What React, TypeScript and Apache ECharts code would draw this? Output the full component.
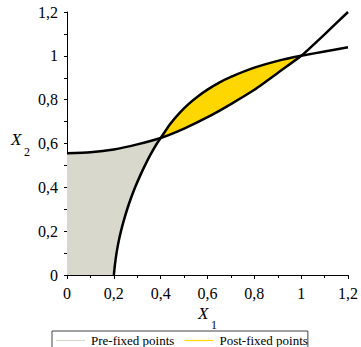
import React, { useEffect, useRef } from "react";
import * as echarts from "echarts";

// Curve through (0, 0.555): flat at first, steepening towards (1.2, 1.2)
const curveAX = [0, 0.1, 0.2, 0.3, 0.4, 0.5, 0.6, 0.7, 0.8, 0.9, 1.0, 1.1, 1.2];
const curveAY = [0.555, 0.56, 0.573, 0.596, 0.625, 0.668, 0.72, 0.78, 0.845, 0.922, 1.0, 1.098, 1.2];

// Curve starting at (0.2, 0): steep at first, flattening towards (1.2, 1.04)
const curveBX = [0.2, 0.205, 0.2115, 0.22, 0.2305, 0.243, 0.257, 0.273, 0.291, 0.311, 0.333, 0.357, 0.384, 0.4,
  0.44, 0.48, 0.52, 0.56, 0.6, 0.65, 0.7, 0.8, 0.9, 1.0, 1.1, 1.2];
const curveBY = [0, 0.05, 0.1, 0.15, 0.2, 0.25, 0.3, 0.35, 0.4, 0.45, 0.5, 0.55, 0.6, 0.625,
  0.688, 0.739, 0.781, 0.816, 0.846, 0.878, 0.904, 0.946, 0.977, 1.0, 1.02, 1.039];

// Where the two curves meet
const crossLowX = 0.4;
const crossHighX = 1.0;

const xTickLabels = ["0", "0,2", "0,4", "0,6", "0,8", "1", "1,2"];
const yTickLabels = ["0", "0,2", "0,4", "0,6", "0,8", "1", "1,2"];

const legendNames = ["Pre-fixed points", "Post-fixed points"];

const GREY = "#d9d8cc";
const YELLOW = "#ffd700";
const SERIF = "Liberation Serif";

const zip = (xs: number[], ys: number[]) => xs.map((x, i) => [x, ys[i]]);

export default function App() {
  const ref = useRef<HTMLDivElement>(null);

  useEffect(() => {
    document.body.style.margin = "0";
    if (!ref.current) return;
    const chart = echarts.init(ref.current, undefined, { renderer: "svg" });

    const a = zip(curveAX, curveAY);
    const b = zip(curveBX, curveBY);

    // Region left of curve B and under curve A
    const prePoly = [
      [0, 0],
      ...b.filter((p) => p[0] <= crossLowX),
      ...a.filter((p) => p[0] <= crossLowX).reverse(),
    ];
    // Region between the two crossings
    const postPoly = [
      ...b.filter((p) => p[0] >= crossLowX && p[0] <= crossHighX),
      ...a.filter((p) => p[0] >= crossLowX && p[0] <= crossHighX).reverse(),
    ];

    const polySeries = (name: string, pts: number[][], color: string) => ({
      type: "custom",
      name,
      silent: true,
      itemStyle: { color },
      data: [[0, 0]],
      renderItem: (_params: any, api: any) => ({
        type: "polygon",
        shape: { points: pts.map((p) => api.coord(p)) },
        style: { fill: color, stroke: "none" },
      }),
    });

    const curveSeries = (pts: number[][]) => ({
      type: "line",
      data: pts,
      showSymbol: false,
      smooth: 0.2,
      silent: true,
      lineStyle: { color: "#000", width: 2.5 },
    });

    const label = (list: string[]) => ({
      margin: 9,
      fontFamily: SERIF,
      fontSize: 16,
      color: "#000",
      formatter: (v: number) => list[Math.round(v / 0.2)],
    });

    chart.setOption({
      animation: false,
      grid: { left: 67, right: 12, top: 12, bottom: 72, containLabel: false },
      legend: {
        left: 52,
        top: 331,
        padding: [3, 0, 6, 4],
        borderColor: "#444",
        borderWidth: 1,
        borderRadius: 0,
        itemWidth: 29,
        itemHeight: 1.2,
        itemGap: 10,
        icon: "rect",
        data: legendNames,
        textStyle: { fontFamily: SERIF, fontSize: 13, color: "#000", padding: [0, 0, 0, 1] },
      },
      xAxis: {
        type: "value",
        min: 0,
        max: 1.2,
        interval: 0.2,
        axisLine: { show: true, onZero: false, lineStyle: { color: "#000", width: 1 } },
        axisTick: { show: true, length: 4, lineStyle: { color: "#000" } },
        minorTick: { show: true, splitNumber: 2, length: 3, lineStyle: { color: "#000" } },
        splitLine: { show: false },
        axisLabel: { ...label(xTickLabels), margin: 10 },
      },
      yAxis: {
        type: "value",
        min: 0,
        max: 1.2,
        interval: 0.2,
        axisLine: { show: true, onZero: false, lineStyle: { color: "#000", width: 1 } },
        axisTick: { show: true, length: 3, lineStyle: { color: "#000" } },
        minorTick: { show: true, splitNumber: 2, length: 3, lineStyle: { color: "#000" } },
        splitLine: { show: false },
        axisLabel: label(yTickLabels),
      },
      graphic: [
        { type: "text", left: 198, top: 305, style: { text: "X", font: `italic 17px "${SERIF}"`, fill: "#000" } },
        { type: "text", left: 211, top: 319, style: { text: "1", font: `12px "${SERIF}"`, fill: "#000" } },
        { type: "text", left: 11, top: 131, style: { text: "X", font: `italic 17px "${SERIF}"`, fill: "#000" } },
        { type: "text", left: 24, top: 146, style: { text: "2", font: `12px "${SERIF}"`, fill: "#000" } },
      ],
      series: [
        polySeries(legendNames[0], prePoly, GREY),
        polySeries(legendNames[1], postPoly, YELLOW),
        curveSeries(a),
        curveSeries(b),
      ],
    });

    return () => chart.dispose();
  }, []);

  return <div ref={ref} style={{ width: 361, height: 347 }} />;
}
